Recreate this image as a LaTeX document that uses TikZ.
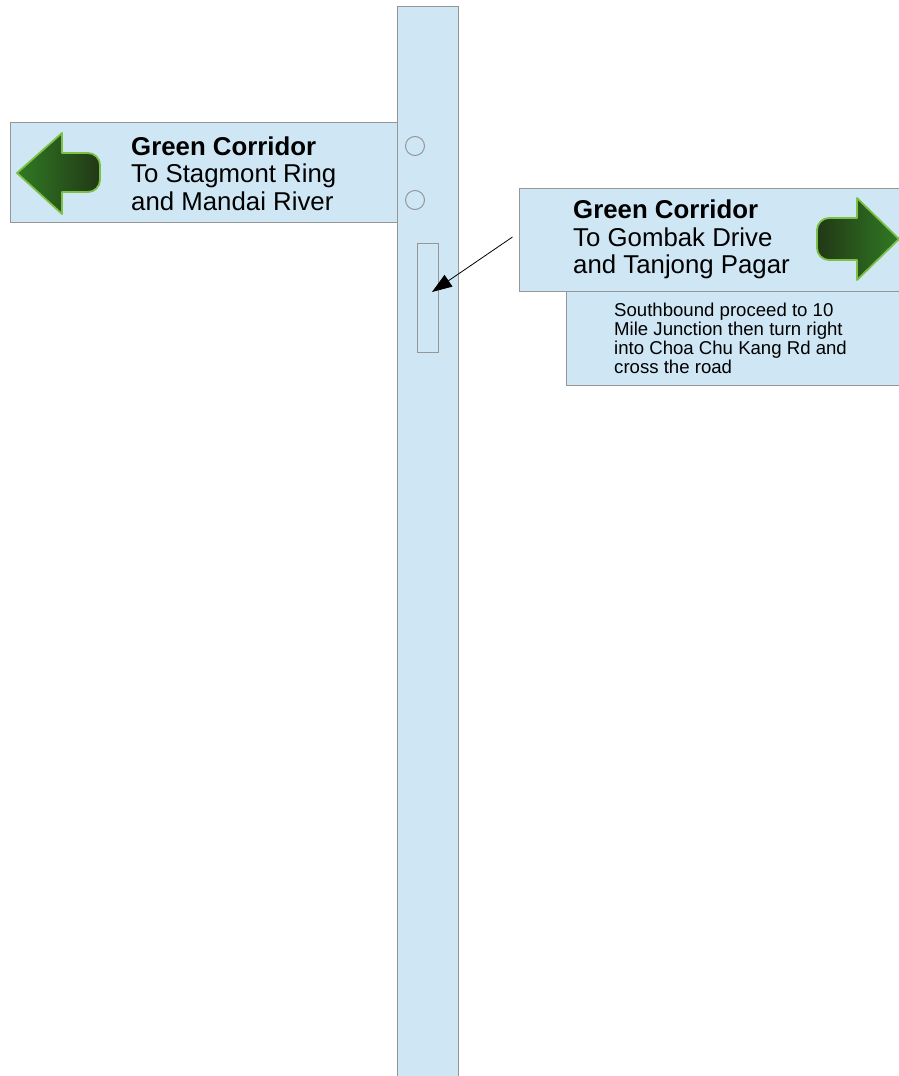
\documentclass[tikz,border=0pt]{standalone}
\usepackage{fontspec}
\setmainfont{Liberation Sans}
\usepackage{tikz}
\usetikzlibrary{positioning, arrows.meta, calc}
\definecolor{sgBlue}{RGB}{207, 231, 245}
\definecolor{sgEdge}{RGB}{150, 150, 150}
\definecolor{sgLight}{RGB}{48, 122, 36}
\definecolor{sgDark}{RGB}{34, 56, 22}
\definecolor{sgRim}{RGB}{125, 192, 72}

\begin{document}
\begin{tikzpicture}[x=1pt, y=-1pt,
    board/.style={draw=sgEdge, fill=sgBlue, line width=1pt},
    bigtext/.style={font=\fontsize{25.8}{27.5}\selectfont, align=left, inner sep=0pt, anchor=west},
    smalltext/.style={font=\fontsize{18.6}{19}\selectfont, align=left, inner sep=0pt, anchor=west},
    arrowbody/.style={draw=sgRim, line width=1.8pt, line join=round}]
  \useasboundingbox (0,0) rectangle (899,1076);

  % Pole
  \draw[board] (397,1082) -- (397,6) -- (458,6) -- (458,1082);
  \coordinate (pole) at (427.5,540);
  \draw[board] (415,146) circle (9.5);
  \draw[board] (415,200) circle (9.5);
  \node[board, minimum width=21pt, minimum height=109pt, inner sep=0pt] (slot) at (427.5,297.5) {};

  % Left sign
  \node[board, minimum width=387pt, minimum height=100pt, inner sep=0pt] (lsign) at (203.5,172) {};
  \shade[arrowbody, left color=sgLight, right color=sgDark]
    (17,173) -- (62,133) -- (62,153) -- (88,153)
    arc[start angle=-90, end angle=0, radius=12] -- (100,180)
    arc[start angle=0, end angle=90, radius=12] -- (62,192) -- (62,214) -- cycle;
  \node[bigtext] (ltext) at (131,173.5) {\textbf{Green Corridor}\\To Stagmont Ring\\and Mandai River};

  % Right sign
  \node[board, minimum width=392pt, minimum height=103pt, inner sep=0pt] (rsign) at (715,239.5) {};
  \shade[arrowbody, left color=sgDark, right color=sgLight]
    (899,239) -- (857,198) -- (857,218) -- (829,218)
    arc[start angle=-90, end angle=-180, radius=12] -- (817,248)
    arc[start angle=180, end angle=90, radius=12] -- (857,260) -- (857,280) -- cycle;
  \node[bigtext] (rtext) at (573,239.5) {\textbf{Green Corridor}\\To Gombak Drive\\and Tanjong Pagar};

  % Note below
  \node[board, minimum width=345pt, minimum height=94pt, inner sep=0pt, anchor=north west] (note) at (566,291) {};
  \node[smalltext] (ntext) at (614,338.5) {Southbound proceed to 10\\Mile Junction then turn right\\into Choa Chu Kang Rd and\\cross the road};

  % Pointer
  \draw[-{Triangle[length=20pt, width=14pt]}, line width=0.8pt] ([xshift=-6pt, yshift=2.5pt]rsign.west) -- ([xshift=4.5pt, yshift=5.5pt]slot.center);
\end{tikzpicture}
\end{document}
